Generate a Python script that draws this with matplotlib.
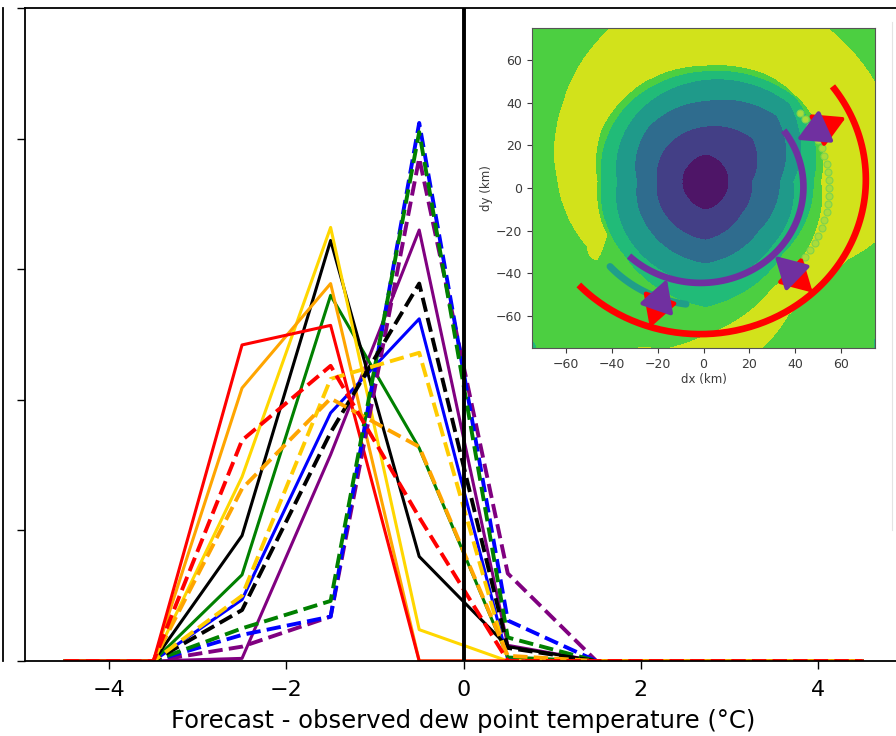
import numpy as np
import matplotlib.pyplot as plt
from matplotlib.lines import Line2D

# bin centres of the forecast - observed error (degC)
bins = [-4.5, -3.5, -2.5, -1.5, -0.5, 0.5, 1.5, 2.5, 3.5, 4.5]

red_solid     = [0, 0, 0.242, 0.257, 0.000, 0.000, 0, 0, 0, 0]
red_dashed    = [0, 0, 0.169, 0.226, 0.110, 0.000, 0, 0, 0, 0]
orange_solid  = [0, 0, 0.209, 0.289, 0.000, 0.000, 0, 0, 0, 0]
orange_dashed = [0, 0, 0.132, 0.201, 0.164, 0.004, 0, 0, 0, 0]
gold_solid    = [0, 0, 0.141, 0.332, 0.024, 0.000, 0, 0, 0, 0]
gold_dashed   = [0, 0, 0.050, 0.216, 0.236, 0.000, 0, 0, 0, 0]
black_solid   = [0, 0, 0.096, 0.322, 0.080, 0.011, 0, 0, 0, 0]
black_dashed  = [0, 0, 0.039, 0.175, 0.289, 0.010, 0, 0, 0, 0]
green_solid   = [0, 0, 0.066, 0.280, 0.163, 0.003, 0, 0, 0, 0]
green_dashed  = [0, 0, 0.025, 0.046, 0.405, 0.018, 0, 0, 0, 0]
blue_solid    = [0, 0, 0.047, 0.190, 0.262, 0.001, 0, 0, 0, 0]
blue_dashed   = [0, 0, 0.020, 0.034, 0.412, 0.031, 0, 0, 0, 0]
purple_solid  = [0, 0, 0.002, 0.158, 0.330, 0.012, 0, 0, 0, 0]
purple_dashed = [0, 0, 0.011, 0.034, 0.385, 0.067, 0, 0, 0, 0]

solid_runs = [(purple_solid, 'purple'), (blue_solid, 'blue'), (green_solid, 'green'),
              (black_solid, 'black'), (gold_solid, 'gold'), (orange_solid, 'orange'),
              (red_solid, 'red')]
dashed_runs = [(purple_dashed, 'purple'), (blue_dashed, 'blue'), (green_dashed, 'green'),
               (black_dashed, 'black'), (gold_dashed, '#ffcc00'), (orange_dashed, 'orange'),
               (red_dashed, 'red')]

# inset: radii (km from the eye) where the filled levels change
ang_in    = [0, 45, 90, 135, 180, 225, 270, 315]
r_dark    = [10.0, 11.0, 13.0, 11.0, 10.4, 11.0, 13.4, 11.0]
r_indigo  = [20.4, 29.0, 26.0, 24.0, 21.4, 24.0, 27.5, 22.0]
r_blue    = [32.6, 44.0, 38.0, 36.0, 30.2, 34.0, 38.6, 33.0]
r_teal    = [38.5, 52.0, 48.0, 44.0, 39.0, 44.0, 49.0, 42.0]
r_tgreen  = [47.5, 56.0, 52.0, 50.0, 46.0, 50.0, 59.0, 48.0]

ang_out   = [0, 30, 60, 90, 120, 150, 180, 210, 225, 240, 255, 270, 300, 315, 330]
r_yel_in  = [50.4, 56, 57, 54.5, 54, 52, 47.5, 50, 60, 70, 82, 72, 58, 56, 54]
r_yel_out = [95, 87, 90, 95, 83, 72, 64.5, 60, 70, 90, 100, 95, 72, 68, 72]
edge_val  = [6, 6, 6, 6, 6, 6, 6, 6, 5.6, 5.5, 6, 6, 6, 6, 6]
peak_add  = [0.6, 0.6, 0.6, 0.6, 0.6, 0.6, 0.6, 0.6, -0.2, -0.2, 0.6, 0.6, 0.6, 0.6, 0.6]
r_corner  = [160, 160, 160, 160, 160, 160, 160, 160, 130, 140, 160, 160, 160, 118, 160]

level_cols = ['#4e1567', '#433f86', '#2f6c8e', '#1f9a8a', '#21bb78', '#4ccf41', '#d2e21b']
eye_x, eye_y = 1.0, 3.0

arc_purple = dict(cx=-1.3, cy=0.5, r=45, a0=226, a1=396)
arc_red = dict(cx=-1.5, cy=4.0, r=72.5, a0=223, a1=397)
arrow_angles = [26, -46, 252]
trail_r = 55

fig = plt.figure(figsize=(8.96, 7.36), dpi=100)
ax = fig.add_axes([25/896, 75/736, 877/896, 653/736])

for vals, c in solid_runs:
    ax.plot(bins, vals, color=c, lw=2.2)
for vals, c in dashed_runs:
    ax.plot(bins, vals, color=c, lw=2.8, ls='--')

ax.axvline(0, color='black', lw=2.8)
ax.set_xlim(-4.95, 4.95)
ax.set_ylim(0, 0.5)
ax.set_xticks([-4, -2, 0, 2, 4])
ax.set_yticks([0, 0.1, 0.2, 0.3, 0.4, 0.5])
ax.set_yticklabels([])
ax.tick_params(length=6, width=1.0, labelsize=16, pad=8)
for s in ax.spines.values():
    s.set_linewidth(1.3)
ax.set_xlabel('Forecast - observed dew point temperature (°C)', fontsize=17.5, labelpad=6)

# border of the neighbouring panel and of the pasted inset
fig.add_artist(Line2D([2.5/896, 2.5/896], [75/736, 728/736], color='black', lw=1.3))
fig.add_artist(Line2D([892/896, 892/896], [206/736, 714/736], color='#e4e4e4', lw=0.8))

# inset map
axi = fig.add_axes([532/896, 388/736, 343/896, 320/736])
g = np.linspace(-75, 75, 301)
X, Y = np.meshgrid(g, g)
R = np.hypot(X - eye_x, Y - eye_y)
TH = np.degrees(np.arctan2(Y - eye_y, X - eye_x)) % 360

def around(knots, vals):
    return np.interp(TH, knots, vals, period=360)

b_in = [around(ang_in, k) for k in (r_dark, r_indigo, r_blue, r_teal, r_tgreen)]
y0, y1 = around(ang_out, r_yel_in), around(ang_out, r_yel_out)
ev, pa = around(ang_out, edge_val), around(ang_out, peak_add)
rads = [np.zeros_like(R)] + b_in + [y0, (y0 + y1) / 2, y1, around(ang_out, r_corner)]
vals = [0.3, 1.0, 2.0, 3.0, 4.0, 5.0, ev, ev + pa, ev, 4.6]
V = np.full(R.shape, 5.5)
for i in range(len(rads) - 1):
    m = (R >= rads[i]) & (R < rads[i + 1])
    t = (R - rads[i]) / (rads[i + 1] - rads[i])
    v0 = vals[i] * np.ones_like(R)
    v1 = vals[i + 1] * np.ones_like(R)
    V[m] = v0[m] + t[m] * (v1[m] - v0[m])
V[R >= rads[-1]] = 4.6
axi.contourf(g, g, V, levels=[0, 1, 2, 3, 4, 5, 6, 7], colors=level_cols)

# storm track drawn over the field
tt = np.radians(np.linspace(222, 262, 30))
axi.plot(trail_r * np.cos(tt), trail_r * np.sin(tt), color='#1f9e89', lw=5, solid_capstyle='round')
td = np.radians(np.arange(-48, 42, 4))
axi.plot(trail_r * np.cos(td), trail_r * np.sin(td), 'o', ms=5, mfc='#a9dc3a', mec='#7fd34e', mew=0.8)

for arc, col in [(arc_red, 'red'), (arc_purple, '#7030a0')]:
    a = np.radians(np.linspace(arc['a0'], arc['a1'], 200))
    axi.plot(arc['cx'] + arc['r'] * np.cos(a), arc['cy'] + arc['r'] * np.sin(a),
             color=col, lw=4.8, solid_capstyle='butt')

for ang in arrow_angles:
    ca, sa = np.cos(np.radians(ang)), np.sin(np.radians(ang))
    cx, cy = -1.5, 2.0
    axi.annotate('', xy=(cx + 71 * ca, cy + 71 * sa), xytext=(cx + 53 * ca, cy + 53 * sa),
                 arrowprops=dict(arrowstyle='-|>,head_length=0.8,head_width=0.45',
                                 color='red', lw=3, mutation_scale=24, shrinkA=0, shrinkB=0))
    axi.annotate('', xy=(cx + 47 * ca, cy + 47 * sa), xytext=(cx + 57 * ca, cy + 57 * sa),
                 arrowprops=dict(arrowstyle='-|>,head_length=0.8,head_width=0.45',
                                 color='#7030a0', lw=3, mutation_scale=24, shrinkA=0, shrinkB=0))

axi.set_xlim(-75, 75)
axi.set_ylim(-75, 75)
axi.set_xticks([-60, -40, -20, 0, 20, 40, 60])
axi.set_yticks([-60, -40, -20, 0, 20, 40, 60])
axi.tick_params(labelsize=9, colors='#3a3a3a', length=3.5, width=0.8)
for s in axi.spines.values():
    s.set_color('#555555')
    s.set_linewidth(0.8)
axi.set_xlabel('dx (km)', fontsize=8.5, color='#3a3a3a', labelpad=2)
axi.set_ylabel('dy (km)', fontsize=8.5, color='#3a3a3a', labelpad=2)

fig.savefig('out.png', dpi=100)
